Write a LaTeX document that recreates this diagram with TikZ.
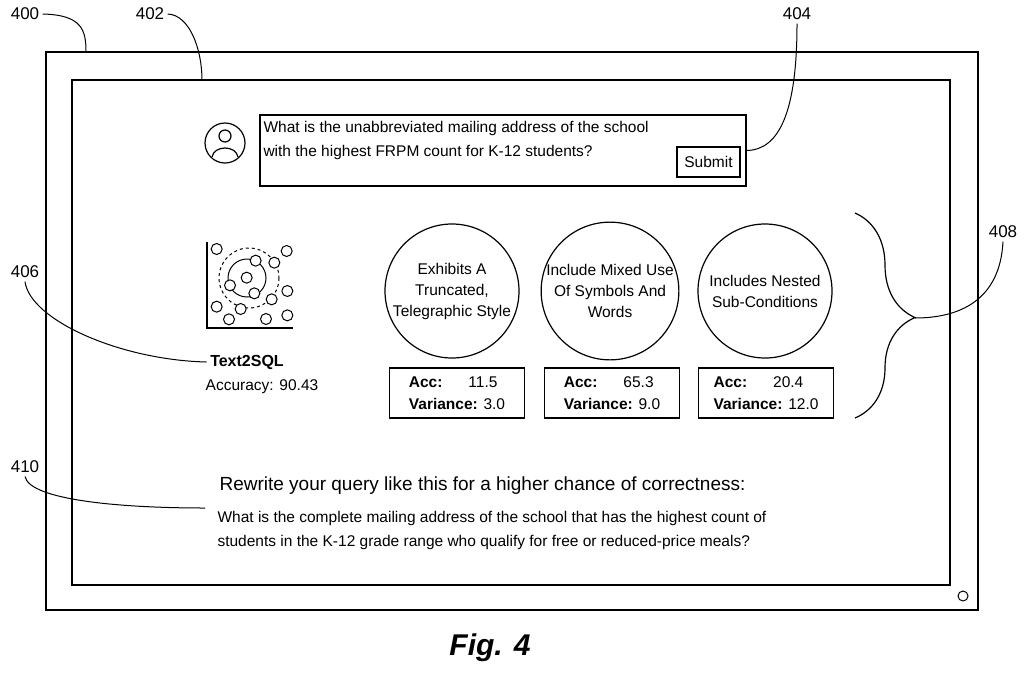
\documentclass[tikz,border=0pt]{standalone}
\usepackage{fontspec}
\setmainfont{Liberation Sans}
\usetikzlibrary{positioning,decorations.pathreplacing}
\tikzset{
  lbl/.style={font=\fontsize{17}{20}\selectfont},
  txt/.style={font=\fontsize{15.5}{24}\selectfont},
  dot/.style={draw,circle,minimum size=11pt,inner sep=0pt,line width=1pt},
  bubble/.style={draw,circle,minimum size=134pt,inner sep=0pt,line width=1.2pt,align=center,font=\fontsize{15.5}{21}\selectfont},
  accbox/.style={draw,line width=1.2pt,minimum width=135pt,minimum height=50pt,align=left,font=\fontsize{15.5}{22}\selectfont},
  lead/.style={line width=1pt}
}
\begin{document}
\begin{tikzpicture}[x=1pt,y=-1pt]
\useasboundingbox (0,0) rectangle (1024,675);
\draw[line width=1.2pt] (46,52) rectangle (978,610);
\draw[line width=1.2pt] (72,80) rectangle (950,585);
\draw[line width=1pt] (963,596) circle (5);

% reference labels
\node[lbl] (l400) at (25,14) {400};
\node[lbl] (l402) at (150,14) {402};
\node[lbl] (l404) at (797,14) {404};
\node[lbl] (l406) at (25,272) {406};
\node[lbl] (l408) at (1003,232) {408};
\node[lbl] (l410) at (25,467) {410};

\coordinate (c400) at (86,52);
\coordinate (c402) at (202,80);
\draw[lead] (l400.east) .. controls (82,15) and (86,30) .. (c400);
\draw[lead] (l402.east) .. controls (190,15) and (202,50) .. (c402);

% query
\node[draw,line width=1.2pt,minimum width=486pt,minimum height=71pt] (query) at (503,150.5) {};
\node[txt,anchor=north west,align=left] (qtext) at (260,118) {What is the unabbreviated mailing address of the school\\with the highest FRPM count for K-12 students?};
\node[draw,line width=1.2pt,minimum width=63pt,minimum height=30pt,txt] (submit) at (708.5,162) {Submit};
\draw[lead] (l404.south) .. controls (797,110) and (780,150) .. (query.east);

% avatar
\node[draw,circle,minimum size=40pt,line width=1.2pt] (avatar) at (225,143) {};
\draw[line width=1.2pt] (225,136) circle (6);
\draw[line width=1.2pt] (212,157) .. controls (214,145) and (236,145) .. (238,157);

% icon
\draw[line width=1.2pt] (207,242) -- (207,328) -- (293,328);
\draw[line width=1pt] (247,278) circle (19);
\draw[line width=1pt,dashed] (249,278) circle (30);
\foreach \zx/\zy in {80/57,290/63,197/92,253/98,170/143,120/166,292/183,193/190,245/208,80/230,152/237,117/268,228/267,292/256}
  \node[dot,fill=white] at ({190+\zx/3},{230+\zy/3}) {};

\node[font=\bfseries\fontsize{16}{18}\selectfont] (model) at (247,362) {Text2SQL};
\node[txt] (acc) at (262,387) {Accuracy: 90.43};
\draw[lead] (l406.south) .. controls (30,320) and (120,360) .. (model.west);

% styles
\node[bubble] (s1) at (452,291) {Exhibits A\\Truncated,\\Telegraphic Style};
\node[bubble] (s2) at (610,291) {Include Mixed Use\\Of Symbols And\\Words};
\node[bubble] (s3) at (765,291) {Includes Nested\\Sub-Conditions};
\node[accbox] (a1) at (457,393) {\textbf{Acc:}\hspace{26pt}11.5\\\textbf{Variance:} 3.0};
\node[accbox] (a2) at (612,393) {\textbf{Acc:}\hspace{26pt}65.3\\\textbf{Variance:} 9.0};
\node[accbox] (a3) at (766,393) {\textbf{Acc:}\hspace{26pt}20.4\\\textbf{Variance:} 12.0};

\coordinate (btop) at (855,213);
\coordinate (bbot) at (855,418);
\draw[line width=1.2pt,decorate,decoration={brace,amplitude=60pt,aspect=0.51}] (btop) -- (bbot);
\coordinate (btip) at (915,318);
\draw[lead] (l408.south) .. controls (1000,300) and (960,318) .. (btip);

% rewrite
\node[font=\fontsize{19}{22}\selectfont,anchor=west] (rtitle) at (216,486) {Rewrite your query like this for a higher chance of correctness:};
\node[txt,anchor=north west,align=left] (rtext) at (214,508) {What is the complete mailing address of the school that has the highest count of\\students in the K-12 grade range who qualify for free or reduced-price meals?};
\draw[lead] (l410.south) .. controls (30,500) and (120,508) .. (205,508);

\node[font=\bfseries\itshape\fontsize{30}{34}\selectfont] (fig) at (490,648) {Fig. 4};
\end{tikzpicture}
\end{document}
